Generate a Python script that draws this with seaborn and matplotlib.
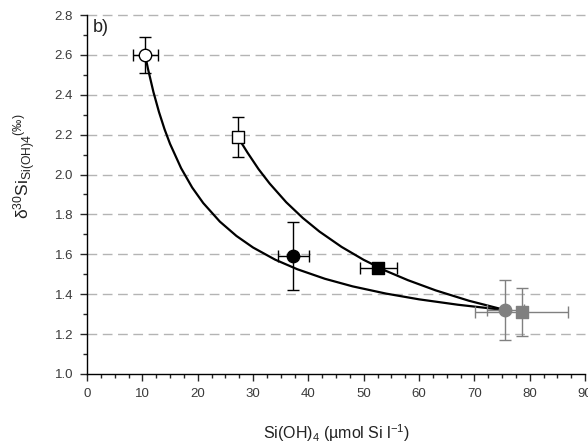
import matplotlib.pyplot as plt
import matplotlib.ticker as mticker
import seaborn as sns

# measured points: Si(OH)4 concentration and d30Si
pt_x = [10.5, 27.2, 37.3, 52.6, 75.6, 78.6]
pt_y = [2.60, 2.19, 1.59, 1.53, 1.32, 1.31]
pt_xerr = [2.25, 0.0, 2.75, 3.35, 3.4, 8.4]
pt_yerr = [0.09, 0.10, 0.17, 0.0, 0.15, 0.12]
pt_marker = ['o', 's', 'o', 's', 'o', 's']
pt_face = ['white', 'white', 'black', 'black', '#808080', '#808080']
pt_edge = ['black', 'black', 'black', 'black', '#808080', '#808080']

# mixing curves
low_x = [10.5, 11, 12, 13, 14, 15, 17, 19, 21, 24, 27, 30, 34, 38, 43, 48, 54, 60, 67, 75.6]
low_y = [2.600, 2.532, 2.414, 2.314, 2.228, 2.154, 2.032, 1.935, 1.857, 1.764,
         1.692, 1.634, 1.573, 1.525, 1.477, 1.439, 1.403, 1.374, 1.347, 1.320]
up_x = [27.2, 29, 31, 33, 36, 39, 42, 46, 50, 54, 58, 63, 69, 75.6]
up_y = [2.190, 2.110, 2.027, 1.955, 1.861, 1.782, 1.714, 1.637, 1.572, 1.517,
        1.470, 1.419, 1.367, 1.320]

sns.set_style("ticks")
plt.rcParams['font.family'] = ['Liberation Sans', 'DejaVu Sans']
plt.rcParams['mathtext.fontset'] = 'custom'
plt.rcParams['mathtext.rm'] = 'Liberation Sans'
plt.rcParams['mathtext.it'] = 'Liberation Sans:italic'
plt.rcParams['mathtext.default'] = 'regular'

fig = plt.figure(figsize=(5.88, 4.43), dpi=100)
ax = fig.add_axes([0.148, 0.156, 0.847, 0.810])

# dashed horizontal grid
for g in [1.2, 1.4, 1.6, 1.8, 2.0, 2.2, 2.4, 2.6, 2.8]:
    ax.axhline(g, color='#b4b4b4', lw=1.0, ls=(0, (7, 4)), zorder=0, clip_on=False)

sns.lineplot(x=low_x, y=low_y, sort=False, estimator=None, color='black', lw=1.6, ax=ax, zorder=2)
sns.lineplot(x=up_x, y=up_y, sort=False, estimator=None, color='black', lw=1.6, ax=ax, zorder=2)

for i in range(len(pt_x)):
    ec = 'black' if i < 4 else '#808080'
    ax.errorbar(pt_x[i], pt_y[i], xerr=pt_xerr[i] or None, yerr=pt_yerr[i] or None,
                fmt='none', ecolor=ec, elinewidth=1.0, capsize=4, capthick=1.0, zorder=3)
    size = 80 if pt_marker[i] == 'o' else 70
    sns.scatterplot(x=[pt_x[i]], y=[pt_y[i]], marker=pt_marker[i], s=size,
                    color=pt_face[i], edgecolor=pt_edge[i], linewidth=1.0, ax=ax, zorder=4)

ax.set_xlim(0, 90)
ax.set_ylim(1.0, 2.8)
ax.xaxis.set_major_locator(mticker.MultipleLocator(10))
ax.xaxis.set_minor_locator(mticker.MultipleLocator(2.5))
ax.yaxis.set_major_locator(mticker.MultipleLocator(0.2))
ax.yaxis.set_minor_locator(mticker.MultipleLocator(0.1))
ax.yaxis.set_major_formatter(mticker.FormatStrFormatter('%.1f'))
ax.tick_params(which='major', direction='out', length=5, width=1, labelsize=9.5,
               labelcolor='#3a3a3a', pad=5)
ax.tick_params(which='minor', direction='out', length=3, width=1)

sns.despine(ax=ax)
for s in ['left', 'bottom']:
    ax.spines[s].set_linewidth(1.0)
    ax.spines[s].set_color('black')

ax.text(0.012, 0.99, 'b)', transform=ax.transAxes, fontsize=13, va='top', ha='left', color='#222222')

ax.set_xlabel(r'Si(OH)$_4$ (µmol Si l$^{-1}$)', fontsize=11.5, color='#222222')
ax.xaxis.set_label_coords(0.5, -0.135)
ax.set_ylabel(r'$\delta^{30}$Si$_{Si(OH)4}$$^{(‰)}$', fontsize=12.5, color='#222222')
ax.yaxis.set_label_coords(-0.098, 0.58)

plt.savefig('out.png', dpi=100)
